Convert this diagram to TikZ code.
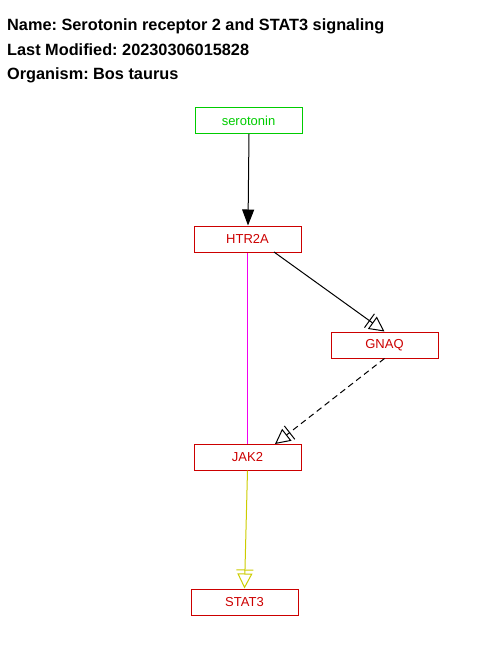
\documentclass[tikz,border=0pt]{standalone}
\usepackage{fontspec}
\setmainfont{Liberation Sans}
\usetikzlibrary{arrows.meta}
\definecolor{nodered}{RGB}{204,0,0}
\definecolor{metgreen}{RGB}{0,204,0}
\definecolor{linkmagenta}{RGB}{240,0,240}
\definecolor{linkyellow}{RGB}{204,204,0}
\tikzset{
  gene/.style={draw=nodered, text=nodered, line width=1pt, minimum width=107pt, minimum height=26pt, inner sep=0pt, font=\fontsize{13}{15}\selectfont},
  metab/.style={gene, draw=metgreen, text=metgreen},
  link/.style={line width=1pt},
  conv/.style={link, -{Bar[width=17pt,sep=3pt]Triangle[open,width=15pt,length=15pt]}},
  stim/.style={link, -{Triangle[width=12pt,length=16pt]}},
  bind/.style={line width=1.4pt, draw=linkmagenta},
  titletext/.style={anchor=base west, inner sep=0pt, font=\bfseries\fontsize{16.3}{19}\selectfont}
}
\begin{document}
\frenchspacing
\begin{tikzpicture}[x=1pt,y=-1pt]
\useasboundingbox (0,0) rectangle (480,657);
\node[titletext] (t1) at (7,30) {Name: Serotonin receptor 2 and STAT3 signaling};
\node[titletext] (t2) at (7,55) {Last Modified: 20230306015828};
\node[titletext] (t3) at (7,79) {Organism: Bos taurus};
\node[metab] (ser) at (248.5,120.5) {serotonin};
\node[gene] (htr) at (247.5,239) {HTR2A};
\node[gene] (gnaq) at (384.5,345) {GNAQ};
\node[gene] (jak) at (247.5,457) {JAK2};
\node[gene] (stat) at (244.5,602) {STAT3};
\draw[stim] (ser.south -| 249,0) -- (htr.north -| 248,0);
\draw[conv] (274,252) -- (gnaq.north);
\draw[conv, dashed, dash pattern=on 6pt off 4pt] (gnaq.south) -- (275,444);
\draw[bind] (htr.south) -- (jak.north);
\draw[conv, draw=linkyellow] (jak.south) -- (stat.north);
\end{tikzpicture}
\end{document}
